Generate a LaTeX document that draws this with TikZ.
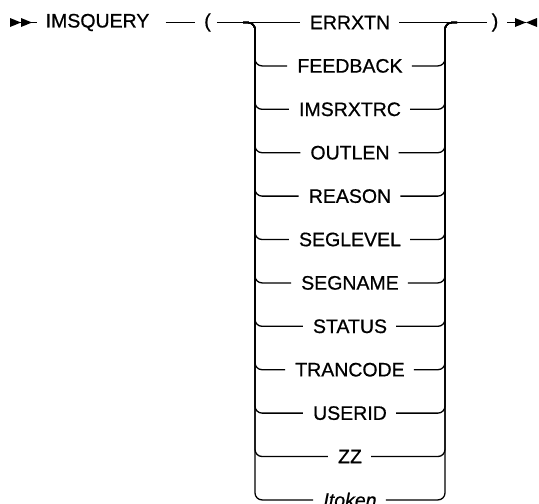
\documentclass[tikz,border=0pt]{standalone}
\usepackage{fontspec}
\setmainfont{Liberation Sans}[FakeBold=0.7]
\usetikzlibrary{positioning,calc}

\begin{document}
\begin{tikzpicture}[
    x=1pt, y=-1pt,
    font=\fontsize{19.5}{23}\selectfont,
    kw/.style={inner sep=0pt, anchor=center},
    rail/.style={line width=1.3pt, rounded corners=7pt},
    tip/.style={fill=black}]
  \useasboundingbox (0,0) rectangle (539,504);
  %% Main line
  \coordinate (start) at (10,22.5);
  \node[kw] (cmd) at (97.5,22.5) {IMSQUERY};
  \node[kw] (lp)  at (207.5,22.5) {(};
  \node[kw] (rp)  at (495,22.5) {)};
  \coordinate (stop) at (526,22.5);
  \coordinate (jl) at (255,22.5);
  \coordinate (jr) at (445,22.5);
  %% Choices, one row each
  \foreach \n/\t [count=\i] in {errxtn/ERRXTN, feedback/FEEDBACK,
      imsrxtrc/IMSRXTRC, outlen/OUTLEN, reason/REASON, seglevel/SEGLEVEL,
      segname/SEGNAME, status/STATUS, trancode/TRANCODE, userid/USERID,
      zz/ZZ, itoken/\textit{Itoken}}
    \node[kw] (\n) at (350,{22.5+43.4*(\i-1)}) {\t};
  %% Start and end marks
  \fill[tip] (start) ++(0,-4.5) -- ++(0,9) -- ++(11,-4.5) -- cycle;
  \fill[tip] (start) ++(11,-4.5) -- ++(0,9) -- ++(11,-4.5) -- cycle;
  \fill[tip] (stop) -- ++(-11,-4.5) -- ++(0,9) -- cycle;
  \fill[tip] (stop) -- ++(11,-4.5) -- ++(0,9) -- cycle;
  %% Connectors
  \draw[rail] (start) -- ([xshift=-8pt]cmd.west);
  \draw[rail] ([xshift=16pt]cmd.east) -- ([xshift=-9pt]lp.west);
  \draw[rail] ([xshift=6pt]lp.east) -- ([xshift=-10pt]errxtn.west);
  \draw[rail] ([xshift=9pt]errxtn.east) -- ([xshift=-5pt]rp.west);
  \draw[rail] ([xshift=9pt]rp.east) -- (stop);
  \foreach \n in {feedback,imsrxtrc,outlen,reason,seglevel,segname,
      status,trancode,userid,zz,itoken} {
    \draw[rail] ([xshift=-12pt]jl) -- (jl) -- (jl |- \n) -- ([xshift=-10pt]\n.west);
    \draw[rail] ([xshift=9pt]\n.east) -- (jr |- \n) -- (jr) -- ([xshift=12pt]jr);
  }
\end{tikzpicture}
\end{document}
